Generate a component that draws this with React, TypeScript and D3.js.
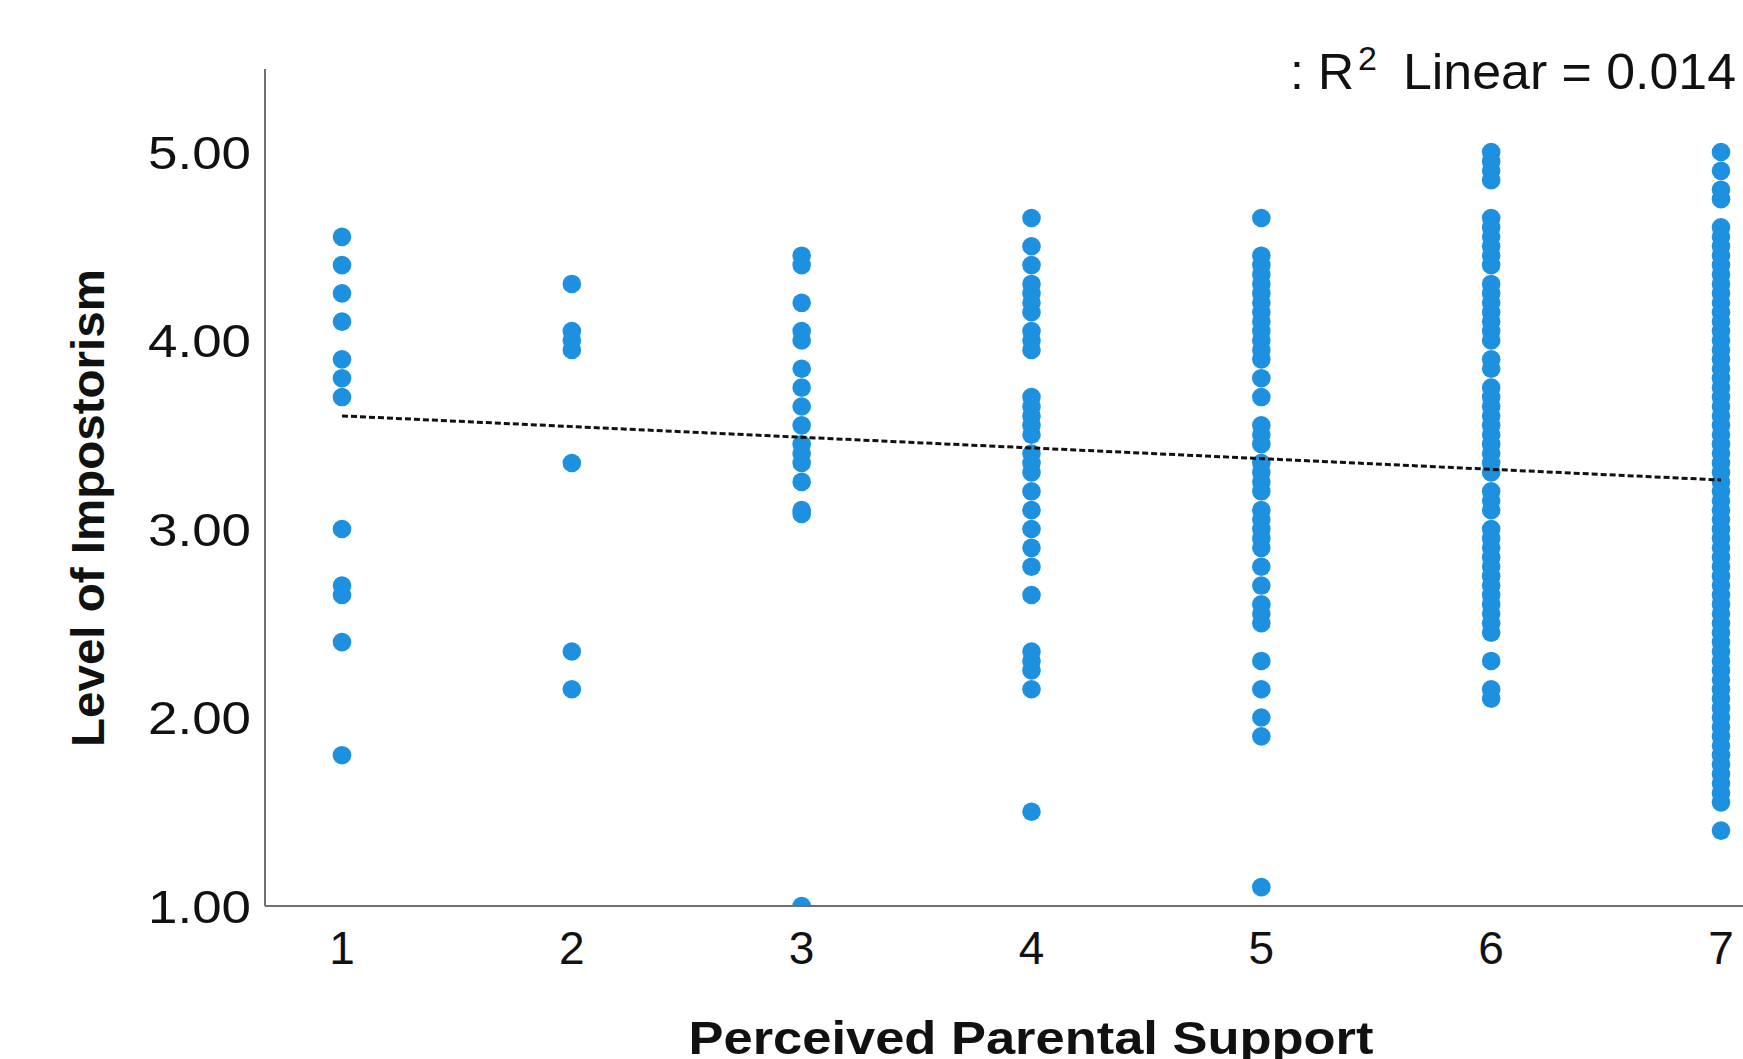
import React from "react";
import * as d3 from "d3";

// ---- Data ----
const xCategories = [1, 2, 3, 4, 5, 6, 7];
const yTicks = [1, 2, 3, 4, 5];

const supp1 = [4.55, 4.4, 4.25, 4.1, 3.9, 3.8, 3.7, 3.0, 2.7, 2.65, 2.4, 1.8];
const supp2 = [4.3, 4.05, 4.0, 3.95, 3.35, 2.35, 2.15];
const supp3 = [4.45, 4.4, 4.2, 4.05, 4.0, 3.85, 3.75, 3.65, 3.55, 3.45, 3.4, 3.35, 3.25, 3.1, 3.08, 1.0];
const supp4 = [4.65, 4.5, 4.4, 4.3, 4.25, 4.2, 4.15, 4.05, 4.0, 3.95, 3.7, 3.65, 3.6, 3.55, 3.5, 3.4, 3.35, 3.3,
  3.2, 3.1, 3.0, 2.9, 2.8, 2.65, 2.35, 2.3, 2.25, 2.15, 1.5];
const supp5 = [4.65, 4.45, 4.4, 4.35, 4.3, 4.25, 4.2, 4.15, 4.1, 4.05, 4.0, 3.95, 3.9, 3.8, 3.7, 3.55, 3.5, 3.45,
  3.35, 3.3, 3.25, 3.2, 3.1, 3.05, 3.0, 2.95, 2.9, 2.8, 2.7, 2.6, 2.55, 2.5, 2.3, 2.15, 2.0, 1.9, 1.1];
const supp6 = [5.0, 4.95, 4.9, 4.85, 4.65, 4.6, 4.55, 4.5, 4.45, 4.4, 4.3, 4.25, 4.2, 4.15, 4.1, 4.05, 4.0, 3.9,
  3.85, 3.75, 3.7, 3.65, 3.6, 3.55, 3.5, 3.45, 3.4, 3.35, 3.3, 3.2, 3.15, 3.1, 3.0, 2.95, 2.9, 2.85, 2.8, 2.75,
  2.7, 2.65, 2.6, 2.55, 2.5, 2.45, 2.3, 2.15, 2.1];
const supp7 = [5.0, 4.9, 4.8, 4.75, 4.6, 4.55, 4.5, 4.45, 4.4, 4.35, 4.3, 4.25, 4.2, 4.15, 4.1, 4.05, 4.0, 3.95,
  3.9, 3.85, 3.8, 3.75, 3.7, 3.65, 3.6, 3.55, 3.5, 3.45, 3.4, 3.35, 3.3, 3.25, 3.2, 3.15, 3.1, 3.05, 3.0, 2.95,
  2.9, 2.85, 2.8, 2.75, 2.7, 2.65, 2.6, 2.55, 2.5, 2.45, 2.4, 2.35, 2.3, 2.25, 2.2, 2.15, 2.1, 2.05, 2.0, 1.95,
  1.9, 1.85, 1.8, 1.75, 1.7, 1.65, 1.6, 1.55, 1.4];
const seriesByCategory = [supp1, supp2, supp3, supp4, supp5, supp6, supp7];

// Fit line: value at x = 1 and at x = 7
const fitX = [1, 7];
const fitY = [3.6, 3.26];

const xTitle = "Perceived Parental Support";
const yTitle = "Level of Impostorism";
const fitLabelPrefix = ": R";
const fitLabelSup = "2";
const fitLabelRest = "Linear = 0.014";

const W = 1743;
const H = 1059;

export default function App() {
  const left = 265;
  const right = 1743;
  const top = 69;
  const bottom = 906;

  const x = d3.scaleLinear().domain([1, 7]).range([342, 1721]);
  const y = d3.scaleLinear().domain([1, 5]).range([906, 152]);

  const points: { cx: number; cy: number }[] = [];
  seriesByCategory.forEach((vals, i) => {
    vals.forEach((v) => points.push({ cx: x(xCategories[i]), cy: y(v) }));
  });

  const line = d3.line<number>().x((d) => x(d)).y((_, i) => y(fitY[i]));

  const font = "'Liberation Sans', Arial, sans-serif";

  return (
    <svg width={W} height={H} style={{ position: "absolute", left: 0, top: 0, background: "#fff" }}>
      <defs>
        <clipPath id="plotClip">
          <rect x={left} y={top - 20} width={right - left} height={bottom - top + 20} />
        </clipPath>
      </defs>
      <rect x={0} y={0} width={W} height={H} fill="#fff" />
      <g clipPath="url(#plotClip)">
        {points.map((p, i) => (
          <circle key={i} cx={p.cx} cy={p.cy} r={9.3} fill="#1e90e0" />
        ))}
      </g>
      <path d={line(fitX) || ""} fill="none" stroke="#111" strokeWidth={3} strokeDasharray="6 3" />
      {/* axes */}
      <line x1={left} y1={top} x2={left} y2={bottom} stroke="#707070" strokeWidth={2} />
      <line x1={left} y1={bottom} x2={right} y2={bottom} stroke="#707070" strokeWidth={2} />
      {yTicks.map((t) => (
        <text key={t} x={251} y={y(t)} dy="0.36em" textAnchor="end" fontFamily={font} fontSize={46}
          textLength={103} lengthAdjust="spacingAndGlyphs" fill="#111">
          {t.toFixed(2)}
        </text>
      ))}
      {xCategories.map((t) => (
        <text key={t} x={x(t)} y={964} textAnchor="middle" fontFamily={font} fontSize={46} fill="#111">
          {t}
        </text>
      ))}
      <text x={1031} y={1054} textAnchor="middle" fontFamily={font} fontWeight="bold" fontSize={46}
        textLength={685} lengthAdjust="spacingAndGlyphs" fill="#111">
        {xTitle}
      </text>
      <text transform={`translate(104,508) rotate(-90)`} textAnchor="middle" fontFamily={font} fontWeight="bold"
        fontSize={46} textLength={478} lengthAdjust="spacingAndGlyphs" fill="#111">
        {yTitle}
      </text>
      <text x={1354} y={89} textAnchor="end" fontFamily={font} fontSize={50} fill="#111">
        {fitLabelPrefix}
      </text>
      <text x={1358} y={70} textAnchor="start" fontFamily={font} fontSize={34} fill="#111">
        {fitLabelSup}
      </text>
      <text x={1403} y={89} textAnchor="start" fontFamily={font} fontSize={50} fill="#111"
        textLength={333} lengthAdjust="spacingAndGlyphs">
        {fitLabelRest}
      </text>
    </svg>
  );
}
